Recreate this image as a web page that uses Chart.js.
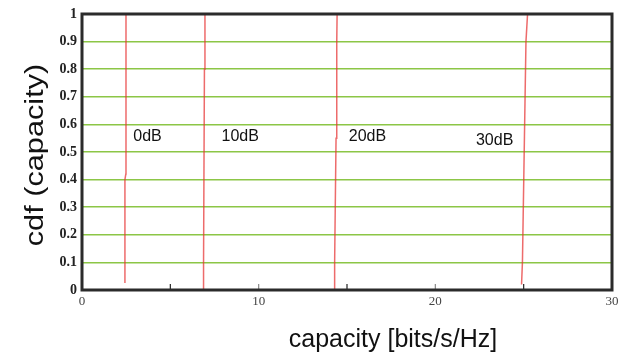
<!DOCTYPE html>
<html>
<head>
<meta charset="utf-8">
<script src="https://cdn.jsdelivr.net/npm/chart.js@4/dist/chart.umd.min.js"></script>
<style>
html,body{margin:0;padding:0;background:#fff;}
#wrap{width:625px;height:360px;position:relative;}
</style>
</head>
<body>
<div id="wrap"><canvas id="cdfChart"></canvas></div>
<script>
// cdf levels and capacity values
const SNR_LABELS = ["0dB", "10dB", "20dB", "30dB"];

const CDF_0DB = [0.025, 0.40, 0.42, 1.0];
const CAP_0DB = [2.43, 2.43, 2.48, 2.49];

const CDF_10DB = [0, 0.1, 0.8, 1.0];
const CAP_10DB = [6.87, 6.88, 6.93, 6.96];

const CDF_20DB = [0, 0.1, 0.55, 0.9, 1.0];
const CAP_20DB = [14.28, 14.30, 14.38, 14.42, 14.44];

const CDF_30DB = [0.02, 0.1, 0.5, 0.9, 1.0];
const CAP_30DB = [24.88, 24.93, 25.03, 25.13, 25.22];

const X_TICK_LABELS = ["0", "10", "20", "30"];
const Y_TICK_LABELS = ["0", "0.1", "0.2", "0.3", "0.4", "0.5", "0.6", "0.7", "0.8", "0.9", "1"];

// where the dB labels sit (data coords)
const LABEL_POS = [
    {x: 2.9, y: 0.555},
    {x: 7.9, y: 0.555},
    {x: 15.1, y: 0.555},
    {x: 22.3, y: 0.54}
];

const RED = "rgba(230,50,50,0.72)";
const GREEN = "rgb(140,198,70)";

function toPoints(xs, ys){
    return xs.map((x, i) => ({x: x, y: ys[i]}));
}

const series = [
    toPoints(CAP_0DB, CDF_0DB),
    toPoints(CAP_10DB, CDF_10DB),
    toPoints(CAP_20DB, CDF_20DB),
    toPoints(CAP_30DB, CDF_30DB)
];

const framePlugin = {
    id: "frame",
    afterDatasetsDraw(chart){
        const {ctx, chartArea: a, scales} = chart;
        ctx.save();
        // inward ticks on x axis
        [5, 10, 15, 20, 25].forEach(v => {
            const px = scales.x.getPixelForValue(v);
            ctx.strokeStyle = (v % 10 === 0) ? "#888" : "#222";
            ctx.lineWidth = 1.2;
            ctx.beginPath();
            ctx.moveTo(px, a.bottom);
            ctx.lineTo(px, a.bottom - 6);
            ctx.stroke();
        });
        // frame
        ctx.strokeStyle = "#2b2b2b";
        ctx.lineWidth = 3;
        ctx.beginPath();
        ctx.moveTo(a.left, a.top);
        ctx.lineTo(a.right, a.top);
        ctx.lineTo(a.right, a.bottom);
        ctx.lineTo(a.left, a.bottom);
        ctx.closePath();
        ctx.stroke();
        // dB labels
        ctx.fillStyle = "#111";
        ctx.font = "16px 'Liberation Sans', Arial, sans-serif";
        ctx.textBaseline = "middle";
        ctx.textAlign = "left";
        SNR_LABELS.forEach((t, i) => {
            ctx.fillText(t, scales.x.getPixelForValue(LABEL_POS[i].x), scales.y.getPixelForValue(LABEL_POS[i].y));
        });
        // axis titles
        ctx.textAlign = "center";
        ctx.font = "25px 'Liberation Sans', Arial, sans-serif";
        ctx.fillText("capacity [bits/s/Hz]", 393, 340);
        ctx.translate(36, 155);
        ctx.rotate(-Math.PI / 2);
        ctx.scale(1.18, 1);
        ctx.font = "26px 'Liberation Sans', Arial, sans-serif";
        ctx.fillText("cdf (capacity)", 0, 0);
        ctx.restore();
    }
};

new Chart(document.getElementById("cdfChart").getContext("2d"), {
    type: "scatter",
    data: {
        datasets: series.map((pts, i) => ({
            label: SNR_LABELS[i],
            data: pts,
            showLine: true,
            borderColor: RED,
            backgroundColor: RED,
            borderWidth: 1.5,
            pointRadius: 0,
            tension: 0
        }))
    },
    options: {
        responsive: true,
        maintainAspectRatio: false,
        animation: false,
        layout: {padding: {top: 14, right: 13, left: 0, bottom: 0}},
        plugins: {
            legend: {display: false},
            tooltip: {enabled: false}
        },
        scales: {
            x: {
                type: "linear",
                min: 0,
                max: 30,
                grid: {display: false, drawTicks: false},
                border: {display: false},
                ticks: {
                    stepSize: 10,
                    autoSkip: false,
                    maxRotation: 0,
                    padding: 4,
                    color: "#444",
                    font: {family: "'Liberation Serif', 'DejaVu Serif', serif", size: 13},
                    callback: (v) => X_TICK_LABELS[v / 10]
                },
                afterFit: (s) => { s.height = 70; }
            },
            y: {
                min: 0,
                max: 1,
                grid: {
                    color: (c) => (c.tick.value > 0.001 && c.tick.value < 0.999) ? GREEN : "rgba(0,0,0,0)",
                    lineWidth: 1.5,
                    drawTicks: false
                },
                border: {display: false},
                ticks: {
                    stepSize: 0.1,
                    autoSkip: false,
                    padding: 5,
                    color: "#222",
                    font: {family: "'Liberation Serif', 'DejaVu Serif', serif", size: 14, weight: "bold"},
                    callback: (v) => Y_TICK_LABELS[Math.round(v * 10)]
                },
                afterFit: (s) => { s.width = 82; }
            }
        }
    },
    plugins: [framePlugin]
});
</script>
</body>
</html>
